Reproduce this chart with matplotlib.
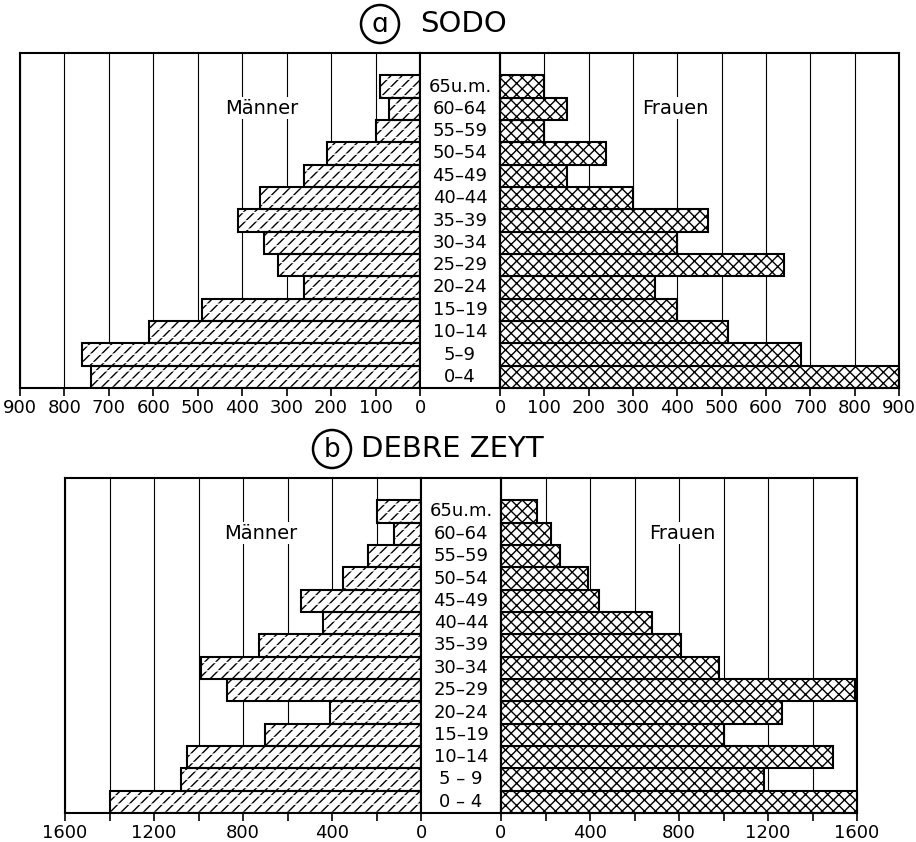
import numpy as np
import matplotlib.pyplot as plt
from matplotlib.patches import Ellipse
from matplotlib.ticker import MultipleLocator

# age groups, bottom (0-4) to top (65 u.m.)
AGES_A = ["0–4", "5–9", "10–14", "15–19", "20–24", "25–29", "30–34",
          "35–39", "40–44", "45–49", "50–54", "55–59", "60–64", "65u.m."]
AGES_B = ["0 – 4", "5 – 9", "10–14", "15–19", "20–24", "25–29", "30–34",
          "35–39", "40–44", "45–49", "50–54", "55–59", "60–64", "65u.m."]

SODO_MEN = [740, 760, 610, 490, 260, 320, 350, 410, 360, 260, 210, 100, 70, 90]
SODO_WOMEN = [900, 680, 515, 400, 350, 640, 400, 470, 300, 150, 240, 100, 150, 100]

DZ_MEN = [1400, 1080, 1050, 700, 410, 870, 990, 730, 440, 540, 350, 240, 120, 200]
DZ_WOMEN = [1600, 1180, 1490, 1000, 1265, 1590, 980, 810, 680, 440, 390, 265, 225, 160]

W, H = 916, 842
plt.rcParams["font.family"] = "DejaVu Sans"
plt.rcParams["hatch.linewidth"] = 1.0

fig = plt.figure(figsize=(W / 100, H / 100), dpi=100)


def px_axes(x0, x1, y0, y1):
	return fig.add_axes([x0 / W, 1 - y1 / H, (x1 - x0) / W, (y1 - y0) / H])


def style_side(ax, major, minor):
	ax.set_ylim(-0.5, 14.5)
	ax.set_yticks([])
	ax.xaxis.set_major_locator(MultipleLocator(major))
	ax.xaxis.set_minor_locator(MultipleLocator(minor))
	ax.grid(which="both", axis="x", color="black", lw=0.8, zorder=0)
	ax.set_axisbelow(True)
	ax.tick_params(axis="x", which="both", direction="out", length=6, width=1.2,
				   labelsize=13, pad=2)
	for s in ax.spines.values():
		s.set_linewidth(1.5)


def pyramid(men, women, ages, xmax, major, minor, top, bottom, xl, xc0, xc1, xr,
			title, letter, circ_x, title_x, lab_m, lab_f):
	y = np.arange(len(ages))
	ax_l = px_axes(xl, xc0, top, bottom)
	ax_c = px_axes(xc0, xc1, top, bottom)
	ax_r = px_axes(xc1, xr, top, bottom)

	# men: diagonal hatch broken into dashes by white horizontal hatch
	ax_l.barh(y, men, height=1.0, color="white", edgecolor="black", lw=0, hatch="///", zorder=2)
	ax_l.barh(y, men, height=1.0, color="none", edgecolor="white", lw=0, hatch="--", zorder=3)
	ax_l.barh(y, men, height=1.0, fill=False, edgecolor="black", lw=1.5, zorder=4)
	ax_l.set_xlim(xmax, 0)
	style_side(ax_l, major, minor)

	ax_r.barh(y, women, height=1.0, color="white", edgecolor="black", lw=1.5, hatch="xxx",
			  zorder=2, clip_on=False)
	ax_r.set_xlim(0, xmax)
	style_side(ax_r, major, minor)

	ax_c.set_xlim(0, 1)
	ax_c.set_ylim(-0.5, 14.5)
	ax_c.set_xticks([])
	ax_c.set_yticks([])
	for s in ax_c.spines.values():
		s.set_linewidth(1.5)
	for yi, lab in zip(y, ages):
		ax_c.text(0.5, yi, lab, ha="center", va="center", fontsize=13)

	ax_l.text(lab_m, 0.835, "Männer", transform=ax_l.transAxes, ha="center", va="center", fontsize=14,
			  bbox=dict(fc="white", ec="none", pad=1), zorder=5)
	ax_r.text(lab_f, 0.835, "Frauen", transform=ax_r.transAxes, ha="center", va="center", fontsize=14,
			  bbox=dict(fc="white", ec="none", pad=1), zorder=5)

	# circled letter + place name
	ty = top - 29
	fig.patches.append(Ellipse((circ_x / W, 1 - ty / H), 38 / W, 38 / H, transform=fig.transFigure,
							   fill=False, ec="black", lw=1.8))
	fig.text(circ_x / W, 1 - (ty + 1) / H, letter, ha="center", va="center", fontsize=19)
	fig.text(title_x / W, 1 - ty / H, title, ha="left", va="center", fontsize=21)


pyramid(SODO_MEN, SODO_WOMEN, AGES_A, 900, 100, 100, 53, 388, 20, 420, 500, 899,
		"SODO", "ɑ", 380, 420, 0.605, 0.44)
pyramid(DZ_MEN, DZ_WOMEN, AGES_B, 1600, 400, 200, 478, 813, 65, 421, 501, 857,
		"DEBRE ZEYT", "b", 332, 361, 0.55, 0.51)

fig.savefig("out.png", dpi=100, facecolor="white")
